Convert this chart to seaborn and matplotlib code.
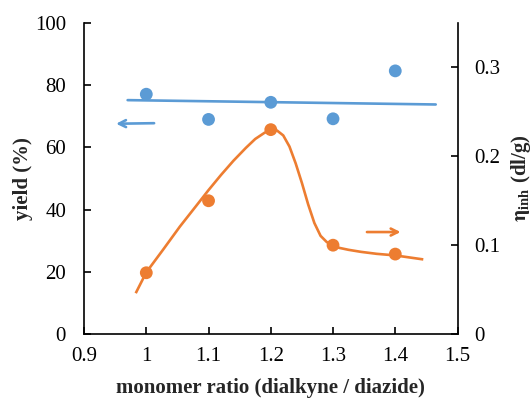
import matplotlib
matplotlib.use("Agg")
import matplotlib.pyplot as plt
import seaborn as sns
import pandas as pd
from matplotlib.ticker import FuncFormatter

# ---- data ----
ratio = [1.0, 1.1, 1.2, 1.3, 1.4]
yield_pct = [77.1, 69.0, 74.5, 69.2, 84.6]
eta_inh = [0.069, 0.150, 0.230, 0.100, 0.090]

# hand-drawn trend line for yield (left axis)
yield_line_x = [0.97, 1.465]
yield_line_y = [75.2, 73.8]

# smooth guide curve for eta (right axis)
eta_curve_x = [0.983, 1.000, 1.027, 1.054, 1.081, 1.100, 1.120, 1.140, 1.160,
               1.175, 1.190, 1.200, 1.210, 1.220, 1.230, 1.240, 1.250, 1.260,
               1.270, 1.280, 1.290, 1.300, 1.310, 1.325, 1.345, 1.370, 1.400,
               1.445]
eta_curve_y = [0.046, 0.0695, 0.095, 0.121, 0.145, 0.162, 0.179, 0.195, 0.2095,
               0.2195, 0.2265, 0.2295, 0.229, 0.2235, 0.211, 0.192, 0.170, 0.146,
               0.125, 0.1105, 0.1035, 0.0995, 0.097, 0.0948, 0.0925, 0.0903,
               0.0885, 0.084]

x_ticks = [0.9, 1.0, 1.1, 1.2, 1.3, 1.4, 1.5]
left_ticks = [0, 20, 40, 60, 80, 100]
right_ticks = [0, 0.1, 0.2, 0.3]

blue = "#5B9BD5"
orange = "#ED7D31"

sns.set_style("ticks")
plt.rcParams["font.family"] = ["Liberation Serif", "DejaVu Serif"]
plt.rcParams["mathtext.fontset"] = "stix"

fig = plt.figure(figsize=(5.32, 4.03), dpi=100)
ax = fig.add_axes([0.158, 0.171, 0.702, 0.772])
ax2 = ax.twinx()

df_pts = pd.DataFrame({"ratio": ratio, "yield": yield_pct, "eta": eta_inh})
df_line = pd.DataFrame({"x": yield_line_x, "y": yield_line_y})
df_curve = pd.DataFrame({"x": eta_curve_x, "y": eta_curve_y})

sns.lineplot(data=df_line, x="x", y="y", ax=ax, color=blue, linewidth=1.9,
             sort=False, zorder=2)
sns.scatterplot(data=df_pts, x="ratio", y="yield", ax=ax, color=blue, s=85,
                edgecolor="none", zorder=3)
sns.lineplot(data=df_curve, x="x", y="y", ax=ax2, color=orange, linewidth=1.9,
             sort=False, zorder=2, solid_joinstyle="round",
             solid_capstyle="butt")
sns.scatterplot(data=df_pts, x="ratio", y="eta", ax=ax2, color=orange, s=85,
                edgecolor="none", zorder=3)

ax.set_xlim(0.9, 1.5)
ax.set_ylim(0, 100)
ax2.set_ylim(0, 0.35)
ax.set_xticks(x_ticks)
ax.set_yticks(left_ticks)
ax2.set_yticks(right_ticks)
fmt = FuncFormatter(lambda v, p: "%g" % round(v, 3))
ax.xaxis.set_major_formatter(fmt)
ax2.yaxis.set_major_formatter(fmt)

for a in (ax, ax2):
    for s in a.spines.values():
        s.set_linewidth(1.2)
        s.set_color("black")
    a.spines["top"].set_visible(False)
    a.tick_params(direction="in", length=5, width=1.2, labelsize=15,
                  colors="black", pad=6)
ax.spines["right"].set_visible(False)
ax2.spines["left"].set_visible(False)
ax2.spines["bottom"].set_visible(False)
ax.tick_params(axis="y", pad=13)
ax.tick_params(axis="x", pad=9)
ax2.tick_params(axis="y", pad=12)

ax.set_xlabel("monomer ratio (dialkyne / diazide)", fontsize=15,
              fontweight="bold", labelpad=9)
ax.set_ylabel("yield (%)", fontsize=15, fontweight="bold", labelpad=1)
ax2.set_ylabel(r"$\mathbf{\eta_{inh}}$ (dl/g)", fontsize=15, fontweight="bold",
               labelpad=6)

# arrows
ax.annotate("", xy=(0.947, 67.6), xytext=(1.017, 67.8),
            arrowprops=dict(arrowstyle="->,head_length=0.5,head_width=0.25",
                            color=blue, lw=1.9))
ax.annotate("", xy=(1.413, 32.8), xytext=(1.35, 32.8),
            arrowprops=dict(arrowstyle="->,head_length=0.5,head_width=0.25",
                            color=orange, lw=1.9))

fig.savefig("out.png", dpi=100)
